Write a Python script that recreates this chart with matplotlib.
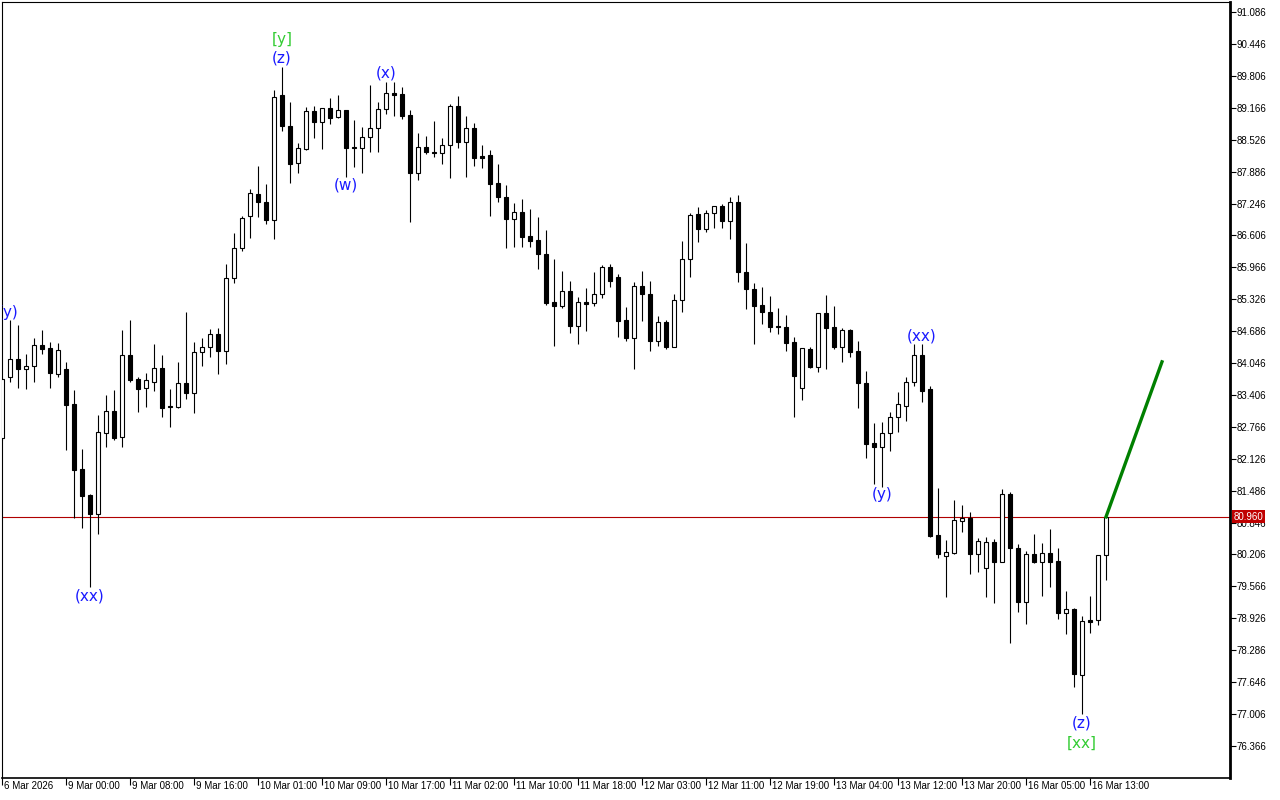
import matplotlib
matplotlib.use("Agg")
import matplotlib.pyplot as plt
from matplotlib.patches import Rectangle

# hourly candles (open, high, low, close)
opens = [82.54, 83.77, 84.13, 83.93, 83.99, 84.41, 84.35, 83.83, 83.93, 83.23,
         81.92, 81.40, 81.02, 82.64, 83.09, 82.56, 84.21, 83.73, 83.55, 83.67,
         83.95, 83.17, 83.17, 83.65, 83.45, 84.27, 84.37, 84.63, 84.29, 85.75,
         86.36, 87.00, 87.44, 87.28, 86.92, 89.42, 88.80, 88.06, 88.34, 89.10,
         88.88, 89.16, 88.98, 89.12, 88.37, 88.36, 88.58, 88.76, 89.14, 89.46,
         89.44, 89.02, 87.86, 88.38, 88.28, 88.26, 88.42, 89.20, 88.48, 88.76,
         88.20, 88.22, 87.66, 87.38, 86.94, 87.08, 86.60, 86.52, 86.23, 85.27,
         85.19, 85.49, 84.79, 85.27, 85.25, 85.43, 85.97, 85.77, 84.91, 84.55,
         85.59, 85.43, 84.49, 84.87, 84.37, 85.31, 86.13, 87.04, 86.74, 87.06,
         87.20, 86.90, 87.28, 85.87, 85.53, 85.21, 85.07, 84.79, 84.77, 84.47,
         83.55, 84.33, 83.97, 85.05, 84.77, 84.37, 84.71, 84.29, 83.65, 82.44,
         82.36, 82.64, 82.96, 83.19, 83.67, 84.21, 83.53, 80.60, 80.18, 80.24,
         80.88, 80.94, 80.22, 79.94, 80.46, 80.06, 81.42, 80.34, 79.25, 80.22,
         80.06, 80.24, 80.08, 79.03, 79.11, 77.79, 78.89, 78.89, 80.20]
highs = [83.75, 84.91, 84.81, 84.23, 84.55, 84.71, 84.47, 84.45, 84.07, 83.51,
         82.32, 81.42, 83.01, 83.41, 83.51, 84.71, 84.91, 83.77, 83.85, 84.43,
         84.21, 83.53, 84.07, 85.07, 84.47, 84.55, 84.73, 84.75, 86.03, 86.66,
         87.00, 87.54, 88.00, 87.64, 89.52, 89.99, 89.28, 88.46, 89.18, 89.20,
         89.16, 89.36, 89.42, 89.12, 88.92, 88.78, 89.62, 89.28, 89.68, 89.68,
         89.58, 89.12, 88.66, 88.60, 88.90, 88.56, 89.24, 89.40, 89.00, 88.86,
         88.42, 88.32, 88.04, 87.62, 87.26, 87.34, 87.14, 86.98, 86.71, 86.13,
         85.89, 85.69, 85.37, 85.55, 85.87, 86.01, 86.03, 85.83, 85.17, 85.67,
         85.89, 85.69, 84.99, 84.91, 85.43, 86.50, 87.06, 87.18, 87.12, 87.20,
         87.24, 87.38, 87.42, 86.45, 85.65, 85.57, 85.39, 85.15, 85.01, 84.57,
         84.35, 84.37, 85.05, 85.41, 85.19, 84.75, 84.73, 84.49, 83.89, 82.84,
         82.86, 83.07, 83.47, 83.77, 84.43, 84.43, 83.59, 81.54, 80.50, 81.30,
         81.20, 81.06, 80.54, 80.56, 80.52, 81.52, 81.46, 80.42, 80.28, 80.62,
         80.44, 80.72, 80.34, 79.47, 79.13, 78.97, 79.37, 80.20, 80.96]
lows = [82.50, 83.67, 83.55, 83.53, 83.67, 84.23, 83.55, 83.77, 82.30, 80.94,
        80.74, 79.56, 80.62, 82.36, 82.50, 82.36, 83.67, 83.07, 83.17, 83.49,
        82.97, 82.76, 83.15, 83.33, 83.05, 83.99, 84.17, 83.83, 84.03, 85.65,
        86.30, 86.56, 86.98, 86.84, 86.54, 88.70, 87.66, 87.86, 88.32, 88.56,
        88.34, 88.84, 88.96, 87.78, 87.98, 87.86, 88.28, 88.28, 89.04, 89.00,
        88.94, 86.88, 87.72, 88.24, 88.18, 88.04, 87.76, 88.36, 87.78, 88.00,
        87.96, 87.00, 87.28, 86.36, 86.38, 86.38, 86.38, 85.93, 85.21, 84.39,
        85.15, 84.65, 84.43, 84.69, 85.19, 85.35, 85.57, 84.57, 84.49, 83.93,
        84.89, 84.29, 84.39, 84.33, 84.37, 85.07, 85.77, 86.48, 86.68, 86.76,
        86.76, 86.54, 85.67, 85.13, 84.43, 84.83, 84.67, 84.63, 84.29, 82.97,
        83.31, 83.95, 83.87, 83.93, 84.33, 84.07, 84.17, 83.15, 82.14, 81.62,
        81.56, 82.28, 82.66, 82.88, 83.59, 83.26, 80.56, 80.14, 79.35, 80.22,
        80.66, 79.81, 79.85, 79.35, 79.23, 80.06, 78.43, 79.05, 78.81, 80.04,
        79.37, 79.55, 78.91, 78.61, 77.55, 77.01, 78.63, 78.79, 79.69]
closes = [83.73, 84.13, 83.93, 83.99, 84.41, 84.33, 83.85, 84.31, 83.21, 81.90,
          81.38, 81.02, 82.66, 83.09, 82.54, 84.21, 83.71, 83.53, 83.71, 83.95,
          83.15, 83.16, 83.65, 83.45, 84.27, 84.37, 84.63, 84.29, 85.75, 86.36,
          86.96, 87.46, 87.28, 86.92, 89.38, 88.80, 88.04, 88.36, 89.10, 88.88,
          89.16, 88.96, 89.12, 88.36, 88.36, 88.58, 88.76, 89.14, 89.46, 89.42,
          89.00, 87.86, 88.38, 88.28, 88.26, 88.42, 89.20, 88.48, 88.76, 88.16,
          88.16, 87.64, 87.38, 86.94, 87.08, 86.58, 86.50, 86.23, 85.25, 85.19,
          85.49, 84.79, 85.27, 85.23, 85.43, 85.97, 85.69, 84.89, 84.55, 85.59,
          85.43, 84.49, 84.87, 84.37, 85.31, 86.13, 87.02, 86.74, 87.06, 87.20,
          86.90, 87.28, 85.87, 85.53, 85.19, 85.07, 84.77, 84.77, 84.45, 83.79,
          84.35, 83.97, 85.05, 84.75, 84.37, 84.71, 84.27, 83.65, 82.42, 82.36,
          82.64, 82.96, 83.23, 83.67, 84.21, 83.49, 80.58, 80.22, 80.26, 80.90,
          80.94, 80.22, 80.48, 80.46, 80.06, 81.42, 80.34, 79.25, 80.22, 80.06,
          80.24, 80.06, 79.03, 79.11, 77.81, 78.87, 78.85, 80.20, 80.96]

time_labels = ["6 Mar 2026", "9 Mar 00:00", "9 Mar 08:00", "9 Mar 16:00",
               "10 Mar 01:00", "10 Mar 09:00", "10 Mar 17:00", "11 Mar 02:00",
               "11 Mar 10:00", "11 Mar 18:00", "12 Mar 03:00", "12 Mar 11:00",
               "12 Mar 19:00", "13 Mar 04:00", "13 Mar 12:00", "13 Mar 20:00",
               "16 Mar 05:00", "16 Mar 13:00"]
price_ticks = [76.366, 77.006, 77.646, 78.286, 78.926, 79.566, 80.206, 80.846,
               81.486, 82.126, 82.766, 83.406, 84.046, 84.686, 85.326, 85.966,
               86.606, 87.246, 87.886, 88.526, 89.166, 89.806, 90.446, 91.086]
last_price = 80.960

# wave labels: (text, bar index, price, colour kind)
wave_labels = [("(y)", 0.8, 85.07, "b"), ("[y]", 35, 90.53, "g"), ("(z)", 35, 90.17, "b"),
               ("(x)", 48, 89.86, "b"), ("(w)", 43, 87.62, "b"), ("(xx)", 11, 79.37, "b"),
               ("(y)", 110, 81.40, "b"), ("(xx)", 115, 84.59, "b"),
               ("(z)", 135, 76.83, "b"), ("[xx]", 135, 76.42, "g")]
proj_x = [138, 145]
proj_y = [80.96, 84.07]

fig = plt.figure(figsize=(12.8, 8), dpi=100)
ax = fig.add_axes([2/1280, 22/800, 1228/1280, 776/800])

w = 0.55
for i in range(len(opens)):
    o, h, l, c = opens[i], highs[i], lows[i], closes[i]
    ax.vlines(i, l, h, color="black", lw=0.8, zorder=2)
    fc = "white" if c > o else "black"
    ax.add_patch(Rectangle((i - w/2, min(o, c)), w, max(abs(c - o), 0.02),
                           facecolor=fc, edgecolor="black", lw=0.8, zorder=3))

ax.axhline(last_price, color="#b00000", lw=0.8, zorder=1)
ax.plot(proj_x, proj_y, color="#008000", lw=2.4, zorder=4)

colors = {"b": "#1a1aff", "g": "#33cc33"}
for txt, xi, yi, kind in wave_labels:
    ax.text(xi, yi, txt, color=colors[kind], fontsize=11, ha="center", va="center",
            zorder=5, clip_on=True)

ax.set_xlim(0, 153.5)
ax.set_ylim(75.72, 91.29)

ax.yaxis.tick_right()
ax.set_yticks(price_ticks)
ax.set_yticklabels([f"{p:.3f}" for p in price_ticks], fontsize=7, family="Liberation Sans")
ax.tick_params(axis="y", length=4, width=0.8, pad=1)

ax.set_xticks(range(0, 137, 8))
ax.set_xticklabels([])
ax.tick_params(axis="x", length=5, width=0.8)
for k, lab in zip(range(0, 137, 8), time_labels):
    ax.text(k + 0.25, -0.004, lab, transform=ax.get_xaxis_transform(), ha="left", va="top",
            fontsize=7, family="Liberation Sans")

ax.text(1.003, last_price, f"{last_price:.3f}", transform=ax.get_yaxis_transform(),
        ha="left", va="center", fontsize=7, family="Liberation Sans", color="white",
        bbox=dict(boxstyle="square,pad=0.15", fc="#c00000", ec="none"), zorder=10, clip_on=False)

for s in ["top", "left"]:
    ax.spines[s].set_linewidth(0.8)
ax.spines["bottom"].set_linewidth(1.2)
ax.spines["right"].set_linewidth(2.0)

fig.savefig("out.png", dpi=100, facecolor="white")
